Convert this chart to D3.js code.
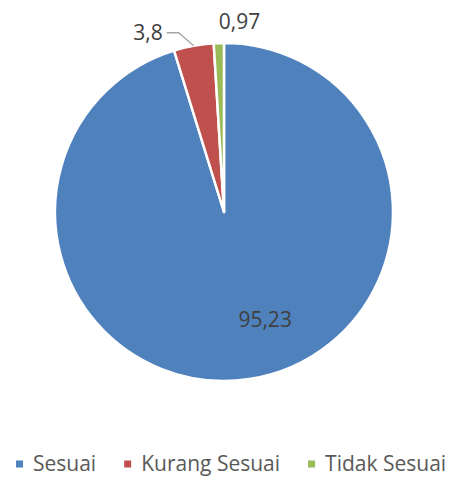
<!DOCTYPE html>
<html>
<head>
<meta charset="utf-8">
<script src="https://cdn.jsdelivr.net/npm/d3@7"></script>
<style>
  body { margin: 0; background: #fff; }
  svg text { font-family: "Open Sans", sans-serif; fill: #595959; }
  svg text.lbl { fill: #404040; }
</style>
</head>
<body>
<div id="chart"></div>
<script>
// data
const categories = ["Sesuai", "Kurang Sesuai", "Tidak Sesuai"];
const values = [95.23, 3.8, 0.97];
const valueLabels = ["95,23", "3,8", "0,97"];
const colors = ["#4F81BD", "#C0504D", "#9BBB59"];

const dims = { width: 450, height: 481, cx: 224, cy: 212, radius: 169 };
const fontSize = 21;

const svg = d3.select("#chart")
    .append("svg")
    .attr("width", dims.width)
    .attr("height", dims.height);

const data = categories.map((c, i) => ({ name: c, value: values[i], label: valueLabels[i], color: colors[i] }));

// Excel-style pie: starts at 12 o'clock, clockwise, no sorting
const pie = d3.pie().value(d => d.value).sort(null);
const arcs = pie(data);

const arc = d3.arc().innerRadius(0).outerRadius(dims.radius);

const g = svg.append("g")
    .attr("transform", `translate(${dims.cx},${dims.cy})`);

g.selectAll("path")
    .data(arcs)
    .join("path")
    .attr("d", arc)
    .attr("fill", d => d.data.color)
    .attr("stroke", "#fff")
    .attr("stroke-width", 2.5)
    .attr("stroke-linejoin", "round");

// inside label for the big slice
const inner = d3.arc().innerRadius(0).outerRadius(dims.radius * 1.36);
const big = arcs[0];
const [bx, by] = inner.centroid(big);
g.append("text")
    .attr("class", "lbl")
    .attr("x", bx + 24)
    .attr("y", by + 1)
    .attr("text-anchor", "middle")
    .attr("font-size", fontSize)
    .text(big.data.label);

// outside label with leader line for "Kurang Sesuai"
const mid = d => (d.startAngle + d.endAngle) / 2;
const pt = (a, r) => [Math.sin(a) * r, -Math.cos(a) * r];
const red = arcs[1];
const p0 = pt(mid(red), dims.radius);
const p1 = [p0[0] - 15, p0[1] - 13];
const p2 = [p1[0] - 12, p1[1]];
g.append("polyline")
    .attr("points", [p0, p1, p2].map(p => p.join(",")).join(" "))
    .attr("fill", "none")
    .attr("stroke", "#A6A6A6")
    .attr("stroke-width", 1.3);
g.append("text")
    .attr("class", "lbl")
    .attr("x", p2[0] - 4)
    .attr("y", p2[1] + 7)
    .attr("text-anchor", "end")
    .attr("font-size", fontSize)
    .text(red.data.label);

// outside label for "Tidak Sesuai"
const green = arcs[2];
const q = pt(mid(green), dims.radius);
g.append("text")
    .attr("class", "lbl")
    .attr("x", q[0])
    .attr("y", q[1] - 14)
    .attr("text-anchor", "start")
    .attr("font-size", fontSize)
    .text(green.data.label);

// legend
const legend = svg.append("g").attr("transform", "translate(16,464)");
let xPos = 0;
data.forEach(d => {
    const item = legend.append("g").attr("transform", `translate(${xPos},0)`);
    item.append("rect")
        .attr("x", 0).attr("y", -3.5)
        .attr("width", 7).attr("height", 7)
        .attr("fill", d.color);
    const t = item.append("text")
        .attr("x", 17)
        .attr("y", 7)
        .attr("font-size", fontSize)
        .text(d.name);
    xPos += 17 + t.node().getComputedTextLength() + 28;
});
</script>
</body>
</html>
